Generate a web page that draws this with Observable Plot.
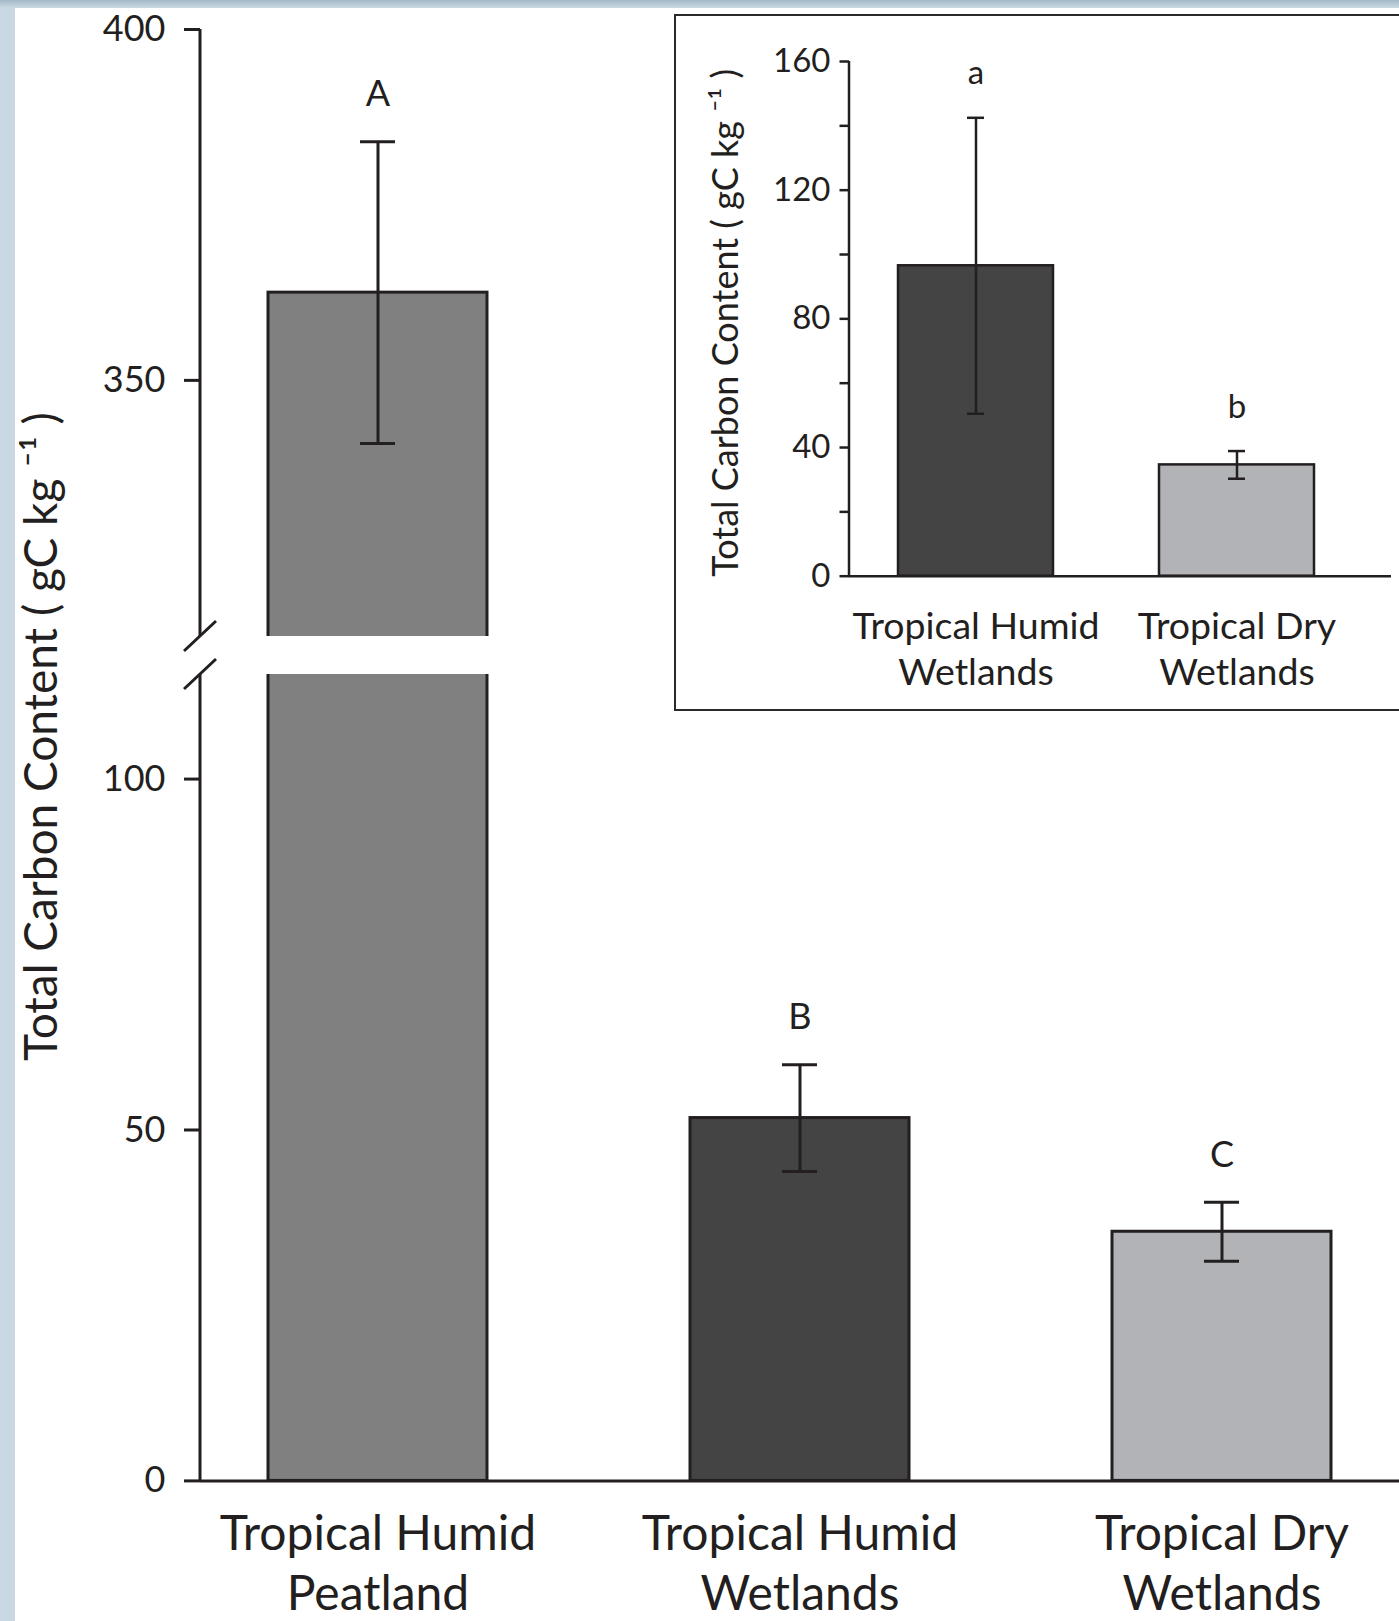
<!DOCTYPE html>
<html><head><meta charset="utf-8">
<script src="https://cdn.jsdelivr.net/npm/d3@7"></script>
<script src="https://cdn.jsdelivr.net/npm/@observablehq/plot@0.6"></script>
<style>
html,body{margin:0;padding:0;background:#fff;}
#root{position:relative;width:1399px;height:1621px;overflow:hidden;background:#c9d9e3;font-family:Lato,sans-serif;}
#topband{position:absolute;left:0;top:0;width:1399px;height:8px;background:linear-gradient(#a3b8c8,#cbdae4);}
#panel{position:absolute;left:15px;top:8px;right:0;bottom:0;background:#fff;}
#inset{position:absolute;left:674px;top:14px;width:760px;height:693px;border:2px solid #2a2a2a;background:#fff;}
.layer{position:absolute;left:0;top:0;}
</style>
</head>
<body>
<div id="root"><div id="topband"></div><div id="panel"></div></div>
<script>
// ---------- data ----------
const categories = ["Tropical Humid\nPeatland", "Tropical Humid\nWetlands", "Tropical Dry\nWetlands"];
const means = [362.5, 51.7, 35.5];
const errors = [21.5, 7.6, 4.2];
const letters = ["A", "B", "C"];

const insetCategories = ["Tropical Humid\nWetlands", "Tropical Dry\nWetlands"];
const insetMeans = [96.5, 34.6];
const insetErrors = [46, 4.3];
const insetLetters = ["a", "b"];

const upperTicks = [350, 400];
const lowerTicks = [0, 50, 100];
const insetMajorTicks = [0, 40, 80, 120, 160];
const insetMinorTicks = [20, 60, 100, 140];

const yTitle = "Total Carbon Content ( gC kg \u207B\u00B9 )";

// ---------- styles ----------
const palette = {
  "Tropical Humid\nPeatland": "#808080",
  "Tropical Humid\nWetlands": "#434443",
  "Tropical Dry\nWetlands": "#b2b3b7"
};
const ink = "#231f20";
const W = 1399, H = 1621;

const rows = categories.map((c, i) => ({cat: c, mean: means[i], lo: means[i] - errors[i], hi: means[i] + errors[i], letter: letters[i]}));
const insetRows = insetCategories.map((c, i) => ({cat: c, mean: insetMeans[i], lo: insetMeans[i] - insetErrors[i], hi: insetMeans[i] + insetErrors[i], letter: insetLetters[i]}));

function axisLine(breakAt, sw) {
  return (index, scales, values, dims) => {
    const x0 = dims.marginLeft;
    const y0 = dims.marginTop, y1 = dims.height - dims.marginBottom;
    const g = d3.create("svg:g").attr("stroke", ink).attr("stroke-width", sw).attr("fill", "none");
    g.append("line").attr("x1", x0).attr("x2", x0).attr("y1", y0).attr("y2", y1);
    if (breakAt === "bottom") g.append("line").attr("x1", x0 - 16).attr("y1", y1 + 15).attr("x2", x0 + 16).attr("y2", y1 - 15);
    if (breakAt === "top") g.append("line").attr("x1", x0 - 16).attr("y1", y0 + 15).attr("x2", x0 + 16).attr("y2", y0 - 15);
    return g.node();
  };
}

const common = {width: W, height: H, style: {background: "transparent", fontFamily: "Lato, sans-serif", color: ink, overflow: "visible"}};
const colorScale = {domain: Object.keys(palette), range: Object.values(palette)};

function dataMarks(data, domain, {sw, capInset, fontSize, dy}) {
  const inRange = (v) => v >= domain[0] && v <= domain[1];
  return [
    Plot.barY(data.filter(d => d.mean > domain[0]), {x: "cat", y: "mean", fill: "cat", stroke: ink, strokeWidth: sw, clip: true}),
    Plot.ruleX(data.filter(d => d.hi > domain[0] && d.lo < domain[1]), {x: "cat", y1: "lo", y2: "hi", stroke: ink, strokeWidth: sw, clip: true}),
    Plot.tickY(data.filter(d => inRange(d.hi)), {x: "cat", y: "hi", stroke: ink, strokeWidth: sw, inset: capInset}),
    Plot.tickY(data.filter(d => inRange(d.lo)), {x: "cat", y: "lo", stroke: ink, strokeWidth: sw, inset: capInset}),
    Plot.text(data.filter(d => inRange(d.hi)), {x: "cat", y: "hi", text: "letter", dy, fontSize, fill: ink})
  ];
}

// ---------- upper (broken) panel ----------
const upperDomain = [313.5, 400];
const upper = Plot.plot({
  ...common,
  marginLeft: 200, marginRight: 0, marginTop: 29, marginBottom: H - 636,
  x: {domain: categories, paddingInner: 0.48, paddingOuter: 0.16, axis: null},
  y: {domain: upperDomain, axis: null, label: null},
  color: colorScale,
  marks: [
    ...dataMarks(rows, upperDomain, {sw: 3, capInset: 92, fontSize: 36, dy: -47}),
    Plot.axisY({ticks: upperTicks, tickSize: 16, tickPadding: 19, fontSize: 36, stroke: ink, strokeWidth: 3, fill: ink, label: null}),
    axisLine("bottom", 3)
  ]
});

// ---------- lower panel ----------
const lowerDomain = [0, 114.9];
const lower = Plot.plot({
  ...common,
  marginLeft: 200, marginRight: 0, marginTop: 674, marginBottom: H - 1480.4,
  x: {domain: categories, paddingInner: 0.48, paddingOuter: 0.16, axis: null},
  y: {domain: lowerDomain, axis: null, label: null},
  color: colorScale,
  marks: [
    ...dataMarks(rows, lowerDomain, {sw: 3, capInset: 92, fontSize: 36, dy: -47}),
    Plot.ruleY([0], {stroke: ink, strokeWidth: 3}),
    Plot.axisY({ticks: lowerTicks, tickSize: 16, tickPadding: 19, fontSize: 36, stroke: ink, strokeWidth: 3, fill: ink, label: null}),
    axisLine("top", 3),
    Plot.text(categories, {x: d => d, text: d => d, frameAnchor: "bottom", lineAnchor: "top", dy: 27, fontSize: 48, lineHeight: 1.24, fill: ink}),
    Plot.text([yTitle], {text: d => d, frameAnchor: "left", textAnchor: "middle", rotate: -90, dx: -158, dy: 736 - 1077.2, fontSize: 46, fill: ink})
  ]
});

// ---------- inset ----------
const insetDomain = [0, 160];
const inset = Plot.plot({
  ...common,
  marginLeft: 849, marginRight: 8, marginTop: 61, marginBottom: H - 575.7,
  x: {domain: insetCategories, paddingInner: 0.405, paddingOuter: 0.237, align: 0.39, axis: null},
  y: {domain: insetDomain, axis: null, label: null},
  color: colorScale,
  marks: [
    ...dataMarks(insetRows, insetDomain, {sw: 2.5, capInset: 69, fontSize: 33, dy: -44}),
    Plot.ruleY([0], {stroke: ink, strokeWidth: 2.5}),
    Plot.axisY({ticks: insetMajorTicks, tickSize: 9.5, tickPadding: 9.5, fontSize: 33, stroke: ink, strokeWidth: 2.5, fill: ink, label: null}),
    Plot.axisY({ticks: insetMinorTicks, tickSize: 9.5, tickFormat: () => "", stroke: ink, strokeWidth: 2.5, fill: ink, label: null}),
    axisLine(null, 2.5),
    Plot.text(insetCategories, {x: d => d, text: d => d, frameAnchor: "bottom", lineAnchor: "top", dy: 30, fontSize: 37.5, lineHeight: 1.23, fill: ink}),
    Plot.text([yTitle], {text: d => d, frameAnchor: "left", textAnchor: "middle", rotate: -90, dx: -123, dy: 4, fontSize: 36, fill: ink})
  ]
});

const root = document.getElementById("root");
for (const s of [upper, lower]) { s.classList.add("layer"); root.appendChild(s); }
const box = document.createElement("div"); box.id = "inset"; root.appendChild(box);
inset.classList.add("layer"); root.appendChild(inset);
</script>
</body></html>
